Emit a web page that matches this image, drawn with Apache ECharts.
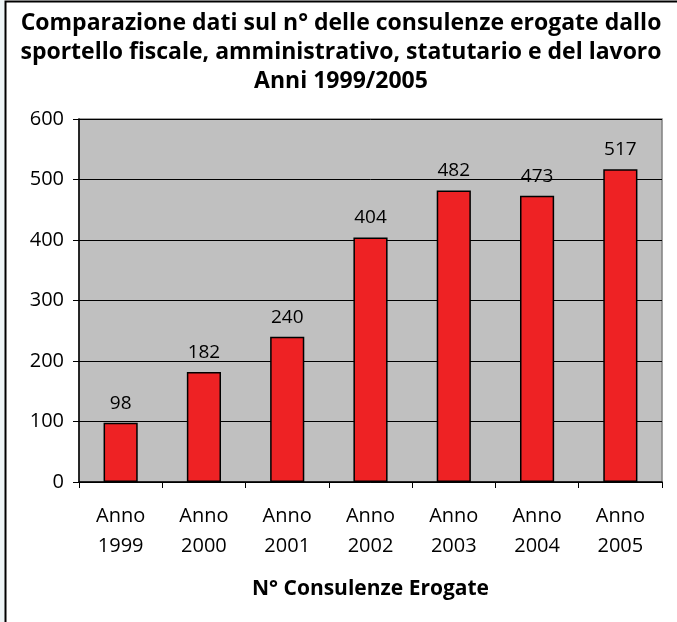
<!DOCTYPE html>
<html><head><meta charset="utf-8">
<script src="https://cdn.jsdelivr.net/npm/echarts@6/dist/echarts.min.js"></script>
<style>html,body{margin:0;padding:0;background:#fff}#c{width:677px;height:622px}</style>
</head><body><div id="c"></div>
<script>
const categories = ["Anno\n1999","Anno\n2000","Anno\n2001","Anno\n2002","Anno\n2003","Anno\n2004","Anno\n2005"];
const values = [98,182,240,404,482,473,517];
const yTicks = {min:0,max:600,interval:100};
const titleText = "Comparazione dati sul n° delle consulenze erogate dallo\nsportello fiscale, amministrativo, statutario e del lavoro\nAnni 1999/2005";
const xName = "N° Consulenze Erogate";
const FONT = "Open Sans";
const chart = echarts.init(document.getElementById('c'));
chart.setOption({
  animation:false,
  backgroundColor:'#fff',
  graphic:[
    {type:'rect',shape:{x:0,y:0,width:5,height:622},style:{fill:'#eef5f7'},z:-1},
    {type:'rect',shape:{x:5.5,y:1.5,width:700,height:700},style:{fill:'none',stroke:'#000',lineWidth:2},z:10},
    {type:'rect',shape:{x:79,y:119,width:583,height:363},style:{fill:'#c0c0c0',stroke:'#808080',lineWidth:1.5},z:-1}
  ],
  title:{text:titleText,left:336,top:4,textAlign:'center',
    textStyle:{fontFamily:FONT,fontWeight:'bold',fontSize:23,lineHeight:29,color:'#000'}},
  grid:{left:79,top:119,width:583,height:363},
  xAxis:{type:'category',data:categories,
    axisLine:{lineStyle:{color:'#000',width:1.5}},
    axisTick:{show:true,length:6,lineStyle:{color:'#000'}},
    axisLabel:{fontFamily:FONT,fontSize:20,color:'#000',lineHeight:30,margin:19},
    name:xName,nameLocation:'middle',nameGap:97,
    nameTextStyle:{fontFamily:FONT,fontWeight:'bold',fontSize:21,color:'#000'}},
  yAxis:{type:'value',min:yTicks.min,max:yTicks.max,interval:yTicks.interval,
    axisLine:{show:true,lineStyle:{color:'#000',width:1.5}},
    axisTick:{show:true,length:6,lineStyle:{color:'#000'}},
    axisLabel:{fontFamily:FONT,fontSize:20,color:'#000',margin:15},
    splitLine:{lineStyle:{color:'#000',width:1}}},
  series:[{type:'bar',data:values,barWidth:'41%',
    itemStyle:{color:'#ee2224',borderColor:'#000',borderWidth:1.5},
    label:{show:true,position:'top',distance:10,fontFamily:FONT,fontSize:19,color:'#000'}}]
});
</script></body></html>
